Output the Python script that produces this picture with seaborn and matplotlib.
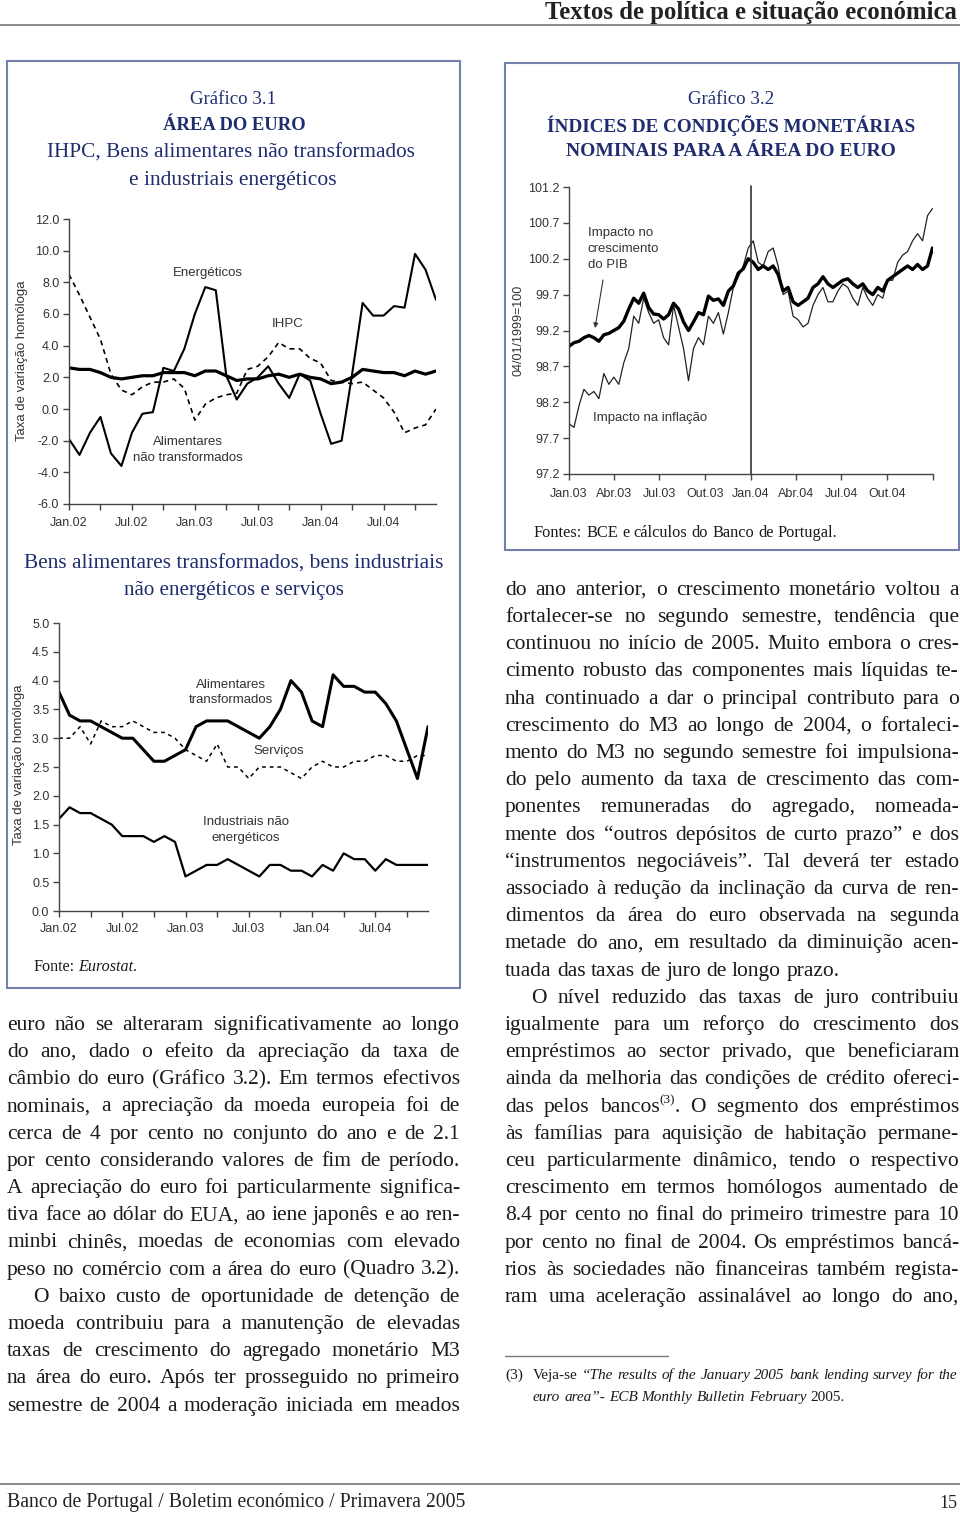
import numpy as np
import pandas as pd
import matplotlib
matplotlib.use("Agg")
import matplotlib.pyplot as plt
import seaborn as sns
from matplotlib.patches import Rectangle
from matplotlib.lines import Line2D

# ---------------- DATA ----------------
# Gráfico 3.1 (monthly, Jan.02 - Dec.04), taxa de variação homóloga (%)
months_labels_31 = ["Jan.02", "Jul.02", "Jan.03", "Jul.03", "Jan.04", "Jul.04"]
energeticos = [-1.9, -2.9, -1.5, -0.5, -2.8, -3.6, -1.5, -0.3, -0.2, 2.6, 2.4, 3.8,
               6.0, 7.7, 7.5, 2.1, 0.6, 1.6, 2.0, 2.7, 1.6, 0.7, 2.2, 1.8,
               -0.3, -2.2, -2.0, 2.2, 6.7, 5.9, 5.9, 6.5, 6.4, 9.8, 8.8, 6.9]
ihpc = [2.6, 2.5, 2.5, 2.3, 2.0, 1.9, 2.0, 2.1, 2.1, 2.3, 2.3, 2.3,
        2.1, 2.4, 2.4, 2.1, 1.8, 1.9, 1.9, 2.1, 2.2, 2.0, 2.2, 2.0,
        1.9, 1.6, 1.7, 2.0, 2.5, 2.4, 2.3, 2.3, 2.1, 2.4, 2.2, 2.4]
alim_nao_transf = [8.5, 7.2, 5.8, 4.4, 2.2, 1.2, 0.9, 1.4, 1.7, 1.7, 1.9, 1.3,
                   -0.7, 0.3, 0.7, 0.9, 1.0, 2.5, 2.7, 3.3, 4.2, 3.8, 3.8, 3.2,
                   2.9, 1.8, 1.7, 1.6, 1.7, 1.2, 0.7, -0.2, -1.5, -1.2, -1.0, 0.0]

alim_transf = [3.8, 3.4, 3.3, 3.3, 3.2, 3.1, 3.0, 3.0, 2.8, 2.6, 2.6, 2.7,
               2.8, 3.2, 3.3, 3.3, 3.3, 3.2, 3.1, 3.0, 3.2, 3.5, 4.0, 3.8,
               3.3, 3.2, 4.1, 3.9, 3.9, 3.8, 3.8, 3.6, 3.3, 2.8, 2.3, 3.2]
servicos = [3.0, 3.0, 3.2, 2.9, 3.3, 3.2, 3.2, 3.3, 3.2, 3.1, 3.1, 3.0,
            2.8, 2.7, 2.6, 2.9, 2.5, 2.5, 2.3, 2.5, 2.5, 2.5, 2.4, 2.3,
            2.5, 2.6, 2.5, 2.5, 2.6, 2.6, 2.7, 2.7, 2.6, 2.6, 2.7, 2.7]
industriais = [1.6, 1.8, 1.7, 1.7, 1.6, 1.5, 1.3, 1.3, 1.3, 1.2, 1.3, 1.2,
               0.6, 0.7, 0.8, 0.8, 0.9, 0.8, 0.7, 0.6, 0.8, 0.8, 0.7, 0.7,
               0.6, 0.8, 0.7, 1.0, 0.9, 0.9, 0.7, 0.9, 0.8, 0.8, 0.8, 0.8]

# Gráfico 3.2 (observations every 10 days from 01/01/2003), 04/01/1999=100
icm_dates = pd.date_range("2003-01-01", periods=74, freq="10D")
impacto_pib = [98.98, 99.03, 99.05, 99.10, 99.13, 99.10, 99.05, 99.14, 99.16, 99.20,
               99.24, 99.33, 99.50, 99.65, 99.58, 99.72, 99.52, 99.43, 99.42, 99.36,
               99.42, 99.58, 99.50, 99.32, 99.20, 99.32, 99.45, 99.42, 99.68, 99.62,
               99.64, 99.55, 99.75, 99.82, 100.00, 100.06, 100.20, 100.15, 100.05, 100.10,
               100.05, 100.10, 99.98, 99.75, 99.80, 99.60, 99.55, 99.60, 99.65, 99.80,
               99.85, 99.95, 99.85, 99.80, 99.85, 99.90, 99.92, 99.85, 99.80, 99.85,
               99.75, 99.70, 99.80, 99.75, 99.90, 99.95, 100.00, 100.05, 100.10, 100.05,
               100.12, 100.05, 100.10, 100.35]
impacto_inflacao = [97.90, 97.85, 98.15, 98.38, 98.30, 98.35, 98.25, 98.60, 98.45, 98.55,
                    98.45, 98.75, 98.95, 99.40, 99.30, 99.65, 99.45, 99.30, 99.35, 99.10,
                    99.00, 99.55, 99.25, 98.95, 98.50, 98.95, 99.10, 99.00, 99.40, 99.30,
                    99.45, 99.15, 99.45, 99.80, 99.95, 100.10, 100.35, 100.45, 100.15, 100.10,
                    100.30, 100.35, 100.10, 99.70, 99.75, 99.40, 99.35, 99.25, 99.30, 99.55,
                    99.70, 99.80, 99.60, 99.60, 99.75, 99.85, 99.80, 99.65, 99.55, 99.80,
                    99.65, 99.55, 99.70, 99.65, 99.90, 99.90, 100.15, 100.25, 100.30, 100.45,
                    100.55, 100.45, 100.80, 100.90]
icm_tick_labels = ["Jan.03", "Abr.03", "Jul.03", "Out.03", "Jan.04", "Abr.04", "Jul.04", "Out.04", ""]

# ---------------- TEXT ----------------
left_lines = [
    ("euro não se alteraram significativamente ao longo", True, 0),
    ("do ano, dado o efeito da apreciação da taxa de", True, 0),
    ("câmbio do euro (Gráfico 3.2). Em termos efectivos", True, 0),
    ("nominais, a apreciação da moeda europeia foi de", True, 0),
    ("cerca de 4 por cento no conjunto do ano e de 2.1", True, 0),
    ("por cento considerando valores de fim de período.", True, 0),
    ("A apreciação do euro foi particularmente significa-", True, 0),
    ("tiva face ao dólar do EUA, ao iene japonês e ao ren-", True, 0),
    ("minbi chinês, moedas de economias com elevado", True, 0),
    ("peso no comércio com a área do euro (Quadro 3.2).", True, 0),
    ("O baixo custo de oportunidade de detenção de", True, 26),
    ("moeda contribuiu para a manutenção de elevadas", True, 0),
    ("taxas de crescimento do agregado monetário M3", True, 0),
    ("na área do euro. Após ter prosseguido no primeiro", True, 0),
    ("semestre de 2004 a moderação iniciada em meados", True, 0),
]
right_lines = [
    ("do ano anterior, o crescimento monetário voltou a", True, 0),
    ("fortalecer-se no segundo semestre, tendência que", True, 0),
    ("continuou no início de 2005. Muito embora o cres-", True, 0),
    ("cimento robusto das componentes mais líquidas te-", True, 0),
    ("nha continuado a dar o principal contributo para o", True, 0),
    ("crescimento do M3 ao longo de 2004, o fortaleci-", True, 0),
    ("mento do M3 no segundo semestre foi impulsiona-", True, 0),
    ("do pelo aumento da taxa de crescimento das com-", True, 0),
    ("ponentes remuneradas do agregado, nomeada-", True, 0),
    ("mente dos “outros depósitos de curto prazo” e dos", True, 0),
    ("“instrumentos negociáveis”. Tal deverá ter estado", True, 0),
    ("associado à redução da inclinação da curva de ren-", True, 0),
    ("dimentos da área do euro observada na segunda", True, 0),
    ("metade do ano, em resultado da diminuição acen-", True, 0),
    ("tuada das taxas de juro de longo prazo.", False, 0),
    ("O nível reduzido das taxas de juro contribuiu", True, 26),
    ("igualmente para um reforço do crescimento dos", True, 0),
    ("empréstimos ao sector privado, que beneficiaram", True, 0),
    ("ainda da melhoria das condições de crédito ofereci-", True, 0),
    ("das pelos bancos{(3)}. O segmento dos empréstimos", True, 0),
    ("às famílias para aquisição de habitação permane-", True, 0),
    ("ceu particularmente dinâmico, tendo o respectivo", True, 0),
    ("crescimento em termos homólogos aumentado de", True, 0),
    ("8.4 por cento no final do primeiro trimestre para 10", True, 0),
    ("por cento no final de 2004. Os empréstimos bancá-", True, 0),
    ("rios às sociedades não financeiras também regista-", True, 0),
    ("ram uma aceleração assinalável ao longo do ano,", True, 0),
]
footnote_1 = "Veja-se *“The results of the January 2005 bank lending survey for the*"
footnote_2 = "*euro area”-* *ECB* *Monthly* *Bulletin* *February* 2005."

# ---------------- FIGURE ----------------
W, H = 960, 1517
sns.set_theme(style="white")
plt.rcParams["font.family"] = ["Liberation Sans", "DejaVu Sans"]
SERIF = ["Liberation Serif", "DejaVu Serif"]
SANS = ["Liberation Sans", "DejaVu Sans"]
NAVY = "#1f2d6e"
TXT = "#1a1a1a"
CH = "#333333"

fig = plt.figure(figsize=(W / 100, H / 100), dpi=100)
fig.patch.set_facecolor("white")
renderer = fig.canvas.get_renderer()


def fx(x):
    return x / W


def fy(y):
    return 1 - y / H


def add_ax(x0, y0, x1, y1):
    return fig.add_axes([x0 / W, 1 - y1 / H, (x1 - x0) / W, (y1 - y0) / H])


def style_ax(ax):
    for s in ["top", "right"]:
        ax.spines[s].set_visible(False)
    for s in ["left", "bottom"]:
        ax.spines[s].set_color("#444444")
        ax.spines[s].set_linewidth(1.0)
    ax.tick_params(axis="both", which="both", direction="out", length=4, width=1,
                   color="#444444", labelsize=9, labelcolor=CH, pad=3,
                   bottom=True, left=True)
    ax.tick_params(axis="x", which="both", pad=5)
    ax.set_facecolor("none")
    ax.grid(False)
    ax.set_xlabel("")
    ax.set_ylabel("")
    for lab in ax.get_xticklabels() + ax.get_yticklabels():
        lab.set_family(SANS)


def fit_text(s, cx, cy, width, family=SERIF, weight="normal", color=NAVY, ha="center",
             style="normal"):
    t = fig.text(fx(cx), fy(cy), s, fontsize=12, family=family, weight=weight, color=color,
                 ha=ha, va="center", style=style)
    w = t.get_window_extent(renderer).width
    t.set_fontsize(12 * width / w)
    return t


def parse(line):
    words = []
    ital = False
    for w in line.split(" "):
        if w == "":
            continue
        segs, cur, sup = [], "", False
        for ch in w:
            if ch == "*":
                if cur:
                    segs.append((cur, ital, sup)); cur = ""
                ital = not ital
            elif ch == "{":
                if cur:
                    segs.append((cur, ital, sup)); cur = ""
                sup = True
            elif ch == "}":
                if cur:
                    segs.append((cur, ital, sup)); cur = ""
                sup = False
            else:
                cur += ch
        if cur:
            segs.append((cur, ital, sup))
        words.append(segs)
    return words


def plain_width(s, size, family=SERIF):
    s = s.replace("*", "").replace("{", "").replace("}", "")
    t = fig.text(0, 0, s, fontsize=size, family=family)
    w = t.get_window_extent(renderer).width
    t.remove()
    return w


def space_width(size, family):
    return plain_width("x x", size, family) - plain_width("xx", size, family)


def draw_line(line, x0, x1, yc, size, justify, color=TXT, family=SERIF):
    words = parse(line)
    objs, widths = [], []
    for segs in words:
        row, w = [], 0
        for s, it, sup in segs:
            fs = size * 0.62 if sup else size
            t = fig.text(0, 0, s, fontsize=fs, family=family,
                         style="italic" if it else "normal", color=color,
                         ha="left", va="baseline")
            bw = t.get_window_extent(renderer).width
            row.append((t, bw, sup)); w += bw
        objs.append(row); widths.append(w)
    sp = space_width(size, family)
    if justify and len(words) > 1:
        gap = (x1 - x0 - sum(widths)) / (len(words) - 1)
        gap = max(gap, sp * 0.5)
    else:
        gap = sp
    px = size * 100 / 72
    base = yc + px * 0.27
    x = x0
    for row, w in zip(objs, widths):
        xx = x
        for t, bw, sup in row:
            yy = base - (px * 0.38 if sup else 0)
            t.set_position((fx(xx), fy(yy)))
            xx += bw
        x += w + gap


# ---------------- PAGE FRAME ----------------
fit_text("Textos de política e situação económica", 957, 12, 409, weight="bold",
         color="#222222", ha="right")
fig.add_artist(Line2D([0, 1], [fy(25), fy(25)], transform=fig.transFigure,
                      color="#8a8a8a", lw=1.4))
fig.add_artist(Line2D([0, 1], [fy(1484), fy(1484)], transform=fig.transFigure,
                      color="#8a8a8a", lw=1.4))
fit_text("Banco de Portugal / Boletim económico / Primavera 2005", 7, 1503, 456,
         color="#222222", ha="left")
fit_text("15", 957, 1503, 18, color="#222222", ha="right")

for (x0, y0, x1, y1) in [(7, 61, 460, 988), (505, 63, 959, 550)]:
    fig.add_artist(Rectangle((fx(x0), fy(y1)), (x1 - x0) / W, (y1 - y0) / H,
                             transform=fig.transFigure, fill=False,
                             edgecolor="#7480ad", lw=1.5))

# ---------------- GRÁFICO 3.1 ----------------
fit_text("Gráfico 3.1", 233, 100, 86)
fit_text("ÁREA DO EURO", 234, 126, 143, weight="bold")
fit_text("IHPC, Bens alimentares não transformados", 231, 153, 366)
fit_text("e industriais energéticos", 233, 180, 207)

x_m = np.arange(len(energeticos))

ax1 = add_ax(69, 219, 436, 504)
sns.lineplot(x=x_m, y=energeticos, ax=ax1, color="black", lw=1.5)
sns.lineplot(x=x_m, y=ihpc, ax=ax1, color="black", lw=2.3)
sns.lineplot(x=x_m, y=alim_nao_transf, ax=ax1, color="black", lw=1.2,
             linestyle=(0, (3, 2.5)))
ax1.set_xlim(0, 35)
ax1.set_ylim(-6, 12)
ax1.set_yticks(np.arange(-6, 12.1, 2))
ax1.set_yticklabels([f"{v:.1f}" for v in np.arange(-6, 12.1, 2)])
ax1.set_xticks(np.arange(0, 36, 6))
ax1.set_xticklabels(months_labels_31)
ax1.set_xticks(np.arange(3, 36, 6), minor=True)
style_ax(ax1)
fig.text(fx(22), fy(361), "Taxa de variação homóloga", rotation=90, ha="center",
         va="center", fontsize=9.5, color=CH, family=SANS)
for s, x, y in [("Energéticos", 208, 273), ("IHPC", 288, 324),
                ("Alimentares", 188, 442), ("não transformados", 188, 458)]:
    fig.text(fx(x), fy(y), s, ha="center", va="center", fontsize=9.5, color=CH, family=SANS)

fit_text("Bens alimentares transformados, bens industriais", 234, 564, 417)
fit_text("não energéticos e serviços", 234, 591, 219)

ax2 = add_ax(59, 623, 428, 911)
sns.lineplot(x=x_m, y=alim_transf, ax=ax2, color="black", lw=2.2)
sns.lineplot(x=x_m, y=servicos, ax=ax2, color="black", lw=1.1,
             linestyle=(0, (2.5, 2.5)))
sns.lineplot(x=x_m, y=industriais, ax=ax2, color="black", lw=1.6)
ax2.set_xlim(0, 35)
ax2.set_ylim(0, 5)
ax2.set_yticks(np.arange(0, 5.01, 0.5))
ax2.set_yticklabels([f"{v:.1f}" for v in np.arange(0, 5.01, 0.5)])
ax2.set_xticks(np.arange(0, 36, 6))
ax2.set_xticklabels(months_labels_31)
ax2.set_xticks(np.arange(3, 36, 6), minor=True)
style_ax(ax2)
fig.text(fx(19), fy(765), "Taxa de variação homóloga", rotation=90, ha="center",
         va="center", fontsize=9.5, color=CH, family=SANS)
for s, x, y in [("Alimentares", 231, 685), ("transformados", 231, 700),
                ("Serviços", 279, 751), ("Industriais não", 246, 822),
                ("energéticos", 246, 838)]:
    fig.text(fx(x), fy(y), s, ha="center", va="center", fontsize=9.5, color=CH, family=SANS)

# ---------------- GRÁFICO 3.2 ----------------
fit_text("Gráfico 3.2", 731, 100, 86)
fit_text("ÍNDICES DE CONDIÇÕES MONETÁRIAS", 731, 126, 367, weight="bold")
fit_text("NOMINAIS PARA A ÁREA DO EURO", 731, 151, 329, weight="bold")

ax3 = add_ax(569, 187, 933, 474)
sns.lineplot(x=icm_dates, y=impacto_inflacao, ax=ax3, color="#222222", lw=0.9)
sns.lineplot(x=icm_dates, y=impacto_pib, ax=ax3, color="black", lw=2.4)
ax3.axvline(pd.Timestamp("2004-01-01"), ymin=0, ymax=1.005, color="#333333", lw=1.2,
            clip_on=False)
ax3.set_xlim(pd.Timestamp("2003-01-01"), pd.Timestamp("2005-01-01"))
ax3.set_ylim(97.2, 101.2)
yt3 = np.arange(97.2, 101.25, 0.5)
ax3.set_yticks(yt3)
ax3.set_yticklabels([f"{v:.1f}" for v in yt3])
ax3.set_xticks(pd.date_range("2003-01-01", "2005-01-01", freq="QS"))
ax3.set_xticklabels(icm_tick_labels)
style_ax(ax3)
ax3.tick_params(axis="x", pad=6)
fig.text(fx(518), fy(330), "04/01/1999=100", rotation=90, ha="center", va="center",
         fontsize=9, color=CH, family=SANS)
for s, y in [("Impacto no", 233), ("crescimento", 249), ("do PIB", 265)]:
    fig.text(fx(588), fy(y), s, ha="left", va="center", fontsize=9.5, color=CH, family=SANS)
fig.text(fx(593), fy(418), "Impacto na inflação", ha="left", va="center", fontsize=9.5,
         color=CH, family=SANS)
ax3.annotate("", xy=(fx(595), fy(328)), xycoords="figure fraction",
             xytext=(fx(603), fy(280)), textcoords="figure fraction",
             arrowprops=dict(arrowstyle="-|>", lw=0.8, color="#333333",
                             mutation_scale=7, shrinkA=0, shrinkB=0))

# sources (sized to the reference widths)
src1 = 10 * 103 / plain_width("Fonte: Eurostat.", 10)
draw_line("Fonte: *Eurostat*.", 33, 200, 967, src1, False)
src2 = 10 * 304 / plain_width("Fontes: BCE e cálculos do Banco de Portugal.", 10)
draw_line("Fontes: BCE e cálculos do Banco de Portugal.", 534, 900, 533, src2, False)

# ---------------- BODY TEXT ----------------
ratios = []
for col, x0, x1 in [(left_lines, 7, 460), (right_lines, 505, 959)]:
    for s, j, ind in col:
        if j:
            ratios.append((x1 - x0 - ind) / plain_width(s, 10))
BODY = 10 * min(ratios) * 0.99
for i, (s, j, ind) in enumerate(left_lines):
    draw_line(s, 7 + ind, 460, 1024 + i * 27.2, BODY, j)
for i, (s, j, ind) in enumerate(right_lines):
    draw_line(s, 505 + ind, 959, 589 + i * 27.2, BODY, j)

# footnote
fig.add_artist(Line2D([fx(505), fx(668)], [fy(1356), fy(1356)], transform=fig.transFigure,
                      color="#777777", lw=1.0))
FN = 10 * (957 - 533) / plain_width(footnote_1, 10) * 0.99
draw_line("(3)", 505, 530, 1375, FN, False)
draw_line(footnote_1, 533, 957, 1375, FN, True)
draw_line(footnote_2, 533, 957, 1397, FN, False)

fig.savefig("out.png", dpi=100, facecolor="white")
